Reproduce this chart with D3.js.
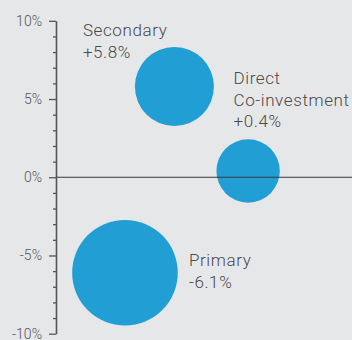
<!DOCTYPE html>
<html>
<head>
<meta charset="utf-8">
<script src="https://cdn.jsdelivr.net/npm/d3@7/dist/d3.min.js"></script>
<style>
  html, body { margin: 0; padding: 0; background: #e6e7e9; }
  svg { display: block; font-family: Roboto, "Noto Sans", sans-serif; }
</style>
</head>
<body>
<svg id="chart" width="352" height="340"></svg>
<script>
// Strategy returns (y, %), horizontal placement and relative bubble size
const strategies = ["Primary", "Secondary", "Direct Co-investment"];
const labelLines = [["Primary"], ["Secondary"], ["Direct", "Co-investment"]];
const returns = [-6.1, 5.8, 0.4];
const xPosition = [23.3, 40, 64.9];
const bubbleSize = [100, 56, 36];
const majorTicks = [-10, -5, 0, 5, 10];
const minorTicks = [-9, -8, -7, -6, -4, -3, -2, -1, 1, 2, 3, 4, 6, 7, 8, 9];

const W = 352, H = 340;
const svg = d3.select("#chart");

const x = d3.scaleLinear().domain([0, 100]).range([56, 352]);
const y = d3.scaleLinear().domain([-10, 10]).range([333.7, 20.8]);
const r = d3.scaleSqrt().domain([0, 100]).range([0, 52.8]);

const fmt = v => (v > 0 ? "+" : "") + v.toFixed(1) + "%";

const data = strategies.map((name, i) => ({
  name, lines: labelLines[i], ret: returns[i], xp: xPosition[i], size: bubbleSize[i]
}));

// bubbles
svg.append("g").selectAll("circle").data(data).join("circle")
  .attr("cx", d => x(d.xp))
  .attr("cy", d => y(d.ret))
  .attr("r", d => r(d.size))
  .attr("fill", "#219fd4");

// zero line
svg.append("line")
  .attr("x1", x(0)).attr("x2", W)
  .attr("y1", y(0)).attr("y2", y(0))
  .attr("stroke", "#3a3a3a").attr("stroke-width", 1);

// minor ticks
const minorAxis = d3.axisLeft(y).tickValues(minorTicks).tickSize(3).tickSizeOuter(0).tickFormat("");
const gMinor = svg.append("g").attr("transform", `translate(${x(0)},0)`).call(minorAxis);
gMinor.select(".domain").remove();
gMinor.selectAll(".tick line").attr("stroke", "#555").attr("stroke-width", 1.3);

// major axis
const majorAxis = d3.axisLeft(y).tickValues(majorTicks).tickSize(7).tickSizeOuter(0).tickPadding(7)
  .tickFormat(d => d + "%");
const gMajor = svg.append("g").attr("transform", `translate(${x(0)},0)`).call(majorAxis);
gMajor.select(".domain").attr("stroke", "#555").attr("stroke-width", 1.6);
gMajor.selectAll(".tick line").attr("stroke", "#555").attr("stroke-width", 1.3);
gMajor.selectAll(".tick text")
  .attr("fill", "#555").attr("font-size", 14).attr("font-weight", 300)
  .attr("font-family", "Roboto, sans-serif");

// bubble labels, offset from each bubble centre
const labelOffset = {
  "Primary": { dx: 64, dy: -6.2 },
  "Secondary": { dx: -91.5, dy: -50.5 },
  "Direct Co-investment": { dx: -14.6, dy: -86.5 }
};
const lineH = 21.5;
data.forEach(d => {
  const off = labelOffset[d.name];
  const tx = x(d.xp) + off.dx;
  const ty = y(d.ret) + off.dy;
  const t = svg.append("text")
    .attr("x", tx).attr("y", ty)
    .attr("fill", "#4a4a4a").attr("font-size", 17).attr("font-weight", 300)
    .attr("letter-spacing", 0.6);
  d.lines.concat([fmt(d.ret)]).forEach((ln, k) => {
    t.append("tspan").attr("x", tx).attr("y", ty + k * lineH).text(ln);
  });
});
</script>
</body>
</html>
